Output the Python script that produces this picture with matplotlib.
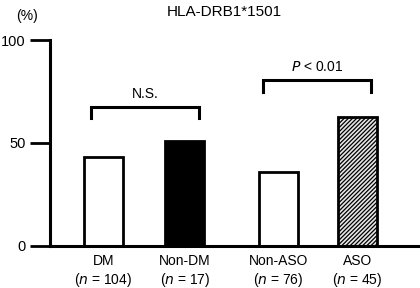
import matplotlib.pyplot as plt
import matplotlib as mpl

plt.rcParams['font.family'] = ['Liberation Sans', 'DejaVu Sans']
mpl.rcParams['hatch.linewidth'] = 0.9

groups = ['DM', 'Non-DM', 'Non-ASO', 'ASO']
group_sizes = [104, 17, 76, 45]
percentages = [43, 51, 36, 62.5]
positions = [0, 1, 2.15, 3.12]

BAR_WIDTH = 0.48


def draw_bracket(axes, x_left, x_right, y, leg, label):
    axes.plot([x_left, x_left, x_right, x_right], [y - leg, y, y, y - leg],
              color='black', lw=2.2, solid_joinstyle='miter', clip_on=False)
    axes.text((x_left + x_right) / 2, y + 3, label, ha='center', va='bottom',
              fontsize=10)


figure = plt.figure(figsize=(4.2, 2.88), dpi=100)
axes = figure.add_axes([0.119, 0.146, 0.876, 0.715])

styles = [
    dict(facecolor='white'),
    dict(facecolor='black'),
    dict(facecolor='white'),
    dict(facecolor='#e6e6e6', hatch='////////'),
]
for x, value, style in zip(positions, percentages, styles):
    axes.bar(x, value, width=BAR_WIDTH, edgecolor='black', linewidth=2,
             **style)

axes.set_xlim(-0.656, 3.86)
axes.set_ylim(0, 100)
axes.set_yticks([0, 50, 100])
axes.tick_params(axis='y', direction='out', length=14.5, width=2, pad=3,
                 labelsize=10.5)
axes.set_xticks([])
for side in ['top', 'right']:
    axes.spines[side].set_visible(False)
for side in ['left', 'bottom']:
    axes.spines[side].set_linewidth(2.2)

for x, name, n in zip(positions, groups, group_sizes):
    axes.text(x, -4, name, ha='center', va='top', fontsize=10)
    axes.text(x, -12, f'($\\it{{n}}$ = {n})', ha='center', va='top',
              fontsize=10)

draw_bracket(axes, -0.155, 1.17, 67.5, 5.5, 'N.S.')
draw_bracket(axes, 1.96, 3.29, 80.5, 5.5, '$\\it{P}$ < 0.01')

figure.text(0.533, 0.958, 'HLA-DRB1*1501', ha='center', va='center',
            fontsize=11)
figure.text(0.064, 0.944, '(%)', ha='center', va='center', fontsize=10)

figure.savefig('out.png', dpi=100)
